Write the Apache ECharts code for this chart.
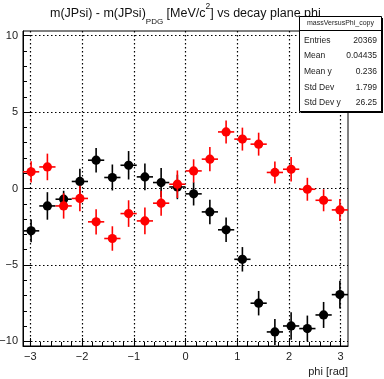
<!DOCTYPE html>
<html><head><meta charset="utf-8">
<script src="https://cdn.jsdelivr.net/npm/echarts@6/dist/echarts.min.js"></script>
<style>html,body{margin:0;padding:0;background:#fff}#c{width:384px;height:379px}</style>
</head><body><div id="c"></div>
<script>
// ---- data ----
const phi = [-2.985, -2.670, -2.356, -2.042, -1.728, -1.414, -1.100, -0.785, -0.471, -0.157,
              0.157,  0.471,  0.785,  1.100,  1.414,  1.728,  2.042,  2.356,  2.670,  2.985];
const binHalfWidth = 0.157;
const blackY   = [-2.77, -1.14, -0.70, 0.46, 1.85, 0.72, 1.52, 0.76, 0.39, 0.10,
                  -0.35, -1.53, -2.70, -4.63, -7.50, -9.38, -8.99, -9.16, -8.27, -6.94];
const blackErr = [0.75, 0.9, 0.55, 0.83, 0.8, 0.85, 0.93, 0.87, 0.95, 0.8,
                  0.76, 0.8, 0.8, 0.8, 0.8, 0.85, 0.9, 0.85, 0.85, 0.9];
const redY     = [1.09, 1.41, -1.14, -0.65, -2.18, -3.27, -1.64, -2.12, -0.96, 0.28,
                  1.15, 1.92, 3.70, 3.23, 2.90, 1.05, 1.26, -0.05, -0.77, -1.40];
const redErr   = [0.7, 0.87, 0.83, 0.83, 0.83, 0.8, 0.87, 0.87, 0.82, 0.9,
                  0.76, 0.8, 0.75, 0.75, 0.75, 0.72, 0.8, 0.75, 0.72, 0.72];
const xMajorTicks = [-3, -2, -1, 0, 1, 2, 3];
const yMajorTicks = [-10, -5, 0, 5, 10];
const xMinorStep = 0.2, yMinorStep = 1;
const statsTitle = 'massVersusPhi_copy';
const statsNames  = ['Entries', 'Mean', 'Mean y', 'Std Dev', 'Std Dev y'];
const statsValues = ['20369', '0.04435', '0.236', '1.799', '26.25'];
const xName = 'phi [rad]';

// ---- build ----
const FONT = '"Liberation Sans", Arial, Helvetica, sans-serif';
const xMinor = [], yMinor = [];
for (let v = -3; v <= 3.0001; v += xMinorStep) xMinor.push(Math.round(v * 10) / 10);
for (let v = -10; v <= 10; v += yMinorStep) yMinor.push(v);

function pts(ys, es) { return phi.map((x, i) => [x, ys[i], es[i]]); }
function errItem(color) {
  return function (params, api) {
    const x = api.value(0), y = api.value(1), e = api.value(2);
    const c = api.coord([x, y]);
    const l = api.coord([x - binHalfWidth, y]), r = api.coord([x + binHalfWidth, y]);
    const t = api.coord([x, y + e]), b = api.coord([x, y - e]);
    const st = { stroke: color, lineWidth: 1.6 };
    return { type: 'group', children: [
      { type: 'line', shape: { x1: l[0], y1: l[1], x2: r[0], y2: r[1] }, style: st },
      { type: 'line', shape: { x1: t[0], y1: t[1], x2: b[0], y2: b[1] }, style: st },
      { type: 'circle', shape: { cx: c[0], cy: c[1], r: 4.6 }, style: { fill: color } }
    ]};
  };
}
const minusFmt = v => String(v).replace('-', '\u2212');
const gridLine = { show: true, lineStyle: { color: '#000', type: [1.5, 2.5], width: 1.2 } };
const labelStyle = { color: '#222', fontSize: 11, fontFamily: FONT };

const chart = echarts.init(document.getElementById('c'), null, { renderer: 'canvas' });
const statsGraphics = [
  { type: 'rect', z: 100, shape: { x: 301, y: 18, width: 82, height: 95 }, style: { fill: '#000' } },
  { type: 'rect', z: 101, shape: { x: 299.5, y: 16.5, width: 82, height: 95 }, style: { fill: '#fff', stroke: '#000', lineWidth: 1 } },
  { type: 'line', z: 101, shape: { x1: 299.5, y1: 30.5, x2: 381.5, y2: 30.5 }, style: { stroke: '#000', lineWidth: 1 } },
  { type: 'text', z: 102, x: 340.5, y: 23.5, style: { text: statsTitle, fontSize: 7, fontFamily: FONT, fill: '#222', align: 'center', verticalAlign: 'middle' } }
];
statsNames.forEach((n, i) => {
  const yy = 40.5 + i * 15.6;
  statsGraphics.push({ type: 'text', z: 102, x: 304, y: yy, style: { text: n, fontSize: 8.5, fontFamily: FONT, fill: '#222', align: 'left', verticalAlign: 'middle' } });
  statsGraphics.push({ type: 'text', z: 102, x: 377, y: yy, style: { text: statsValues[i], fontSize: 8.5, fontFamily: FONT, fill: '#222', align: 'right', verticalAlign: 'middle' } });
});

chart.setOption({
  animation: false,
  backgroundColor: '#fff',
  title: {
    text: 'm(JPsi) - m(JPsi){sub|PDG} [MeV/c{sup|2}] vs decay plane phi',
    left: 50, top: 2, padding: 0,
    textStyle: {
      fontSize: 12.5, fontWeight: 'normal', color: '#111', fontFamily: FONT, lineHeight: 24,
      rich: {
        sub: { fontSize: 8, fontFamily: FONT, color: '#111', verticalAlign: 'bottom', lineHeight: 12 },
        sup: { fontSize: 8.5, fontFamily: FONT, color: '#111', verticalAlign: 'top', lineHeight: 10 }
      }
    }
  },
  grid: { left: 23, right: 36, top: 31, bottom: 33, show: true, borderColor: '#000', borderWidth: 1, containLabel: false, outerBoundsMode: 'none' },
  xAxis: [
    { type: 'value', min: -Math.PI, max: Math.PI, position: 'bottom',
      axisLine: { show: true, onZero: false, lineStyle: { color: '#000', width: 1 } },
      axisTick: { show: true, inside: true, length: 8, customValues: xMajorTicks, lineStyle: { color: '#000' } },
      axisLabel: { show: true, customValues: xMajorTicks, formatter: minusFmt, margin: 5, ...labelStyle },
      splitLine: gridLine },
    { type: 'value', min: -Math.PI, max: Math.PI, position: 'bottom', offset: 0,
      axisLine: { show: false, onZero: false },
      axisTick: { show: true, inside: true, length: 4, customValues: xMinor, lineStyle: { color: '#000' } },
      axisLabel: { show: false }, splitLine: { show: false } }
  ],
  yAxis: [
    { type: 'value', min: -10.3, max: 10.3, position: 'left',
      axisLine: { show: true, onZero: false, lineStyle: { color: '#000', width: 1 } },
      axisTick: { show: true, inside: true, length: 8, customValues: yMajorTicks, lineStyle: { color: '#000' } },
      axisLabel: { show: true, customValues: yMajorTicks, formatter: minusFmt, margin: 5, ...labelStyle },
      splitLine: gridLine },
    { type: 'value', min: -10.3, max: 10.3, position: 'left', offset: 0,
      axisLine: { show: false, onZero: false },
      axisTick: { show: true, inside: true, length: 4, customValues: yMinor, lineStyle: { color: '#000' } },
      axisLabel: { show: false }, splitLine: { show: false } }
  ],
  series: [
    { type: 'custom', name: 'black', xAxisIndex: 0, yAxisIndex: 0, renderItem: errItem('#000'), data: pts(blackY, blackErr), z: 3 },
    { type: 'custom', name: 'red', xAxisIndex: 0, yAxisIndex: 0, renderItem: errItem('#ff0000'), data: pts(redY, redErr), z: 4 }
  ],
  graphic: [
    { type: 'text', x: 348, y: 372, style: { text: xName, fontSize: 11, fontFamily: FONT, fill: '#222', align: 'right', verticalAlign: 'middle' } },
    ...statsGraphics
  ]
});
</script></body></html>
